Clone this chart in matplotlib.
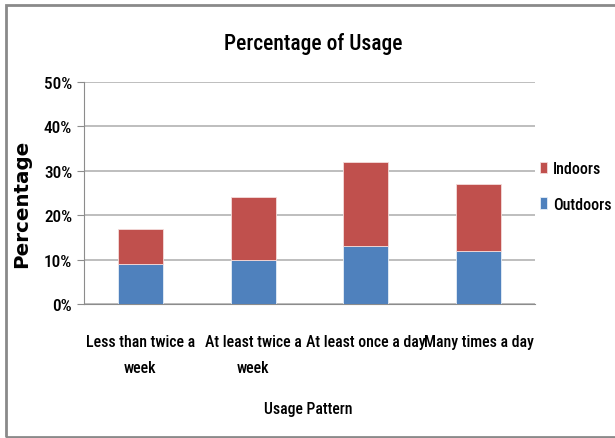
import matplotlib
matplotlib.use("Agg")
import matplotlib.pyplot as plt
from matplotlib import font_manager
from matplotlib.patches import Rectangle
from matplotlib.ticker import FuncFormatter

categories = ["Less than twice a\nweek", "At least twice a\nweek",
              "At least once a day", "Many times a day"]
outdoors = [9, 10, 13, 12]
indoors = [8, 14, 19, 15]
yticks = [0, 10, 20, 30, 40, 50]

BLUE = "#4F81BD"
RED = "#C0504D"

# narrow sans for the chart text, first one that is installed
installed = {f.name for f in font_manager.fontManager.ttflist}
narrow = next((n for n in ["Roboto Condensed", "Liberation Sans Narrow",
                           "Open Sans Condensed", "Lato"] if n in installed),
              "Lato")
FONT = [narrow, "DejaVu Sans"]
WEIGHT = "medium"

fig = plt.figure(figsize=(6.15, 4.39), dpi=100)
ax = fig.add_axes([84 / 615, 1 - 305 / 439, (535 - 84) / 615, (305 - 83) / 439])

x = range(len(categories))
b_out = ax.bar(x, outdoors, width=0.4, color=BLUE, edgecolor="#E6EEF7",
               linewidth=0.6, label="Outdoors", zorder=3)
b_in = ax.bar(x, indoors, width=0.4, bottom=outdoors, color=RED,
              edgecolor="#F4DCDB", linewidth=0.6, label="Indoors", zorder=3)

ax.set_xlim(-0.5, len(categories) - 0.5)
ax.set_ylim(0, 50)
ax.set_yticks(yticks)
ax.yaxis.set_major_formatter(FuncFormatter(lambda v, p: f"{int(v)}%"))
ax.set_xticks(list(x))
ax.set_xticklabels(categories, family=FONT, fontsize=11.4, linespacing=1.95,
                   fontweight=WEIGHT)
for lbl in ax.get_yticklabels():
    lbl.set_family(FONT)
    lbl.set_fontsize(12.4)
    lbl.set_fontweight(WEIGHT)

ax.grid(axis="y", color="#B3B3B3", linewidth=1.2, zorder=0)
for side in ("top", "right"):
    ax.spines[side].set_visible(False)
ax.spines["left"].set_color("#8C8C8C")
ax.spines["bottom"].set_color("#8C8C8C")
ax.tick_params(axis="y", length=5, color="#8C8C8C", pad=3.5)
ax.tick_params(axis="x", length=0, pad=21.5)

fig.text(313 / 615, 1 - 44 / 439, "Percentage of Usage", family=FONT,
         fontsize=15.5, fontweight=WEIGHT, ha="center", va="center")
fig.text(22 / 615, 1 - 204 / 439, "Percentage", fontsize=14.3,
         fontweight="bold", rotation=90, ha="center", va="center")
fig.text(308 / 615, 1 - 410 / 439, "Usage Pattern", family=FONT,
         fontsize=11.3, fontweight=WEIGHT, ha="center", va="center")

leg = fig.legend([b_in, b_out], ["Indoors", "Outdoors"],
                 loc="upper left", bbox_to_anchor=(540 / 615, 1 - 162 / 439),
                 frameon=False, borderpad=0, borderaxespad=0,
                 handlelength=0.42, handleheight=0.75,
                 handletextpad=0.4, labelspacing=1.3,
                 prop={"family": FONT, "size": 11.5, "weight": WEIGHT})

fig.patches.append(Rectangle((6 / 615, 1 / 439), 1.2, 432 / 439,
                             transform=fig.transFigure, fill=False,
                             edgecolor="#8A8A8A", linewidth=2))

fig.savefig("out.png", dpi=100, facecolor="white")
